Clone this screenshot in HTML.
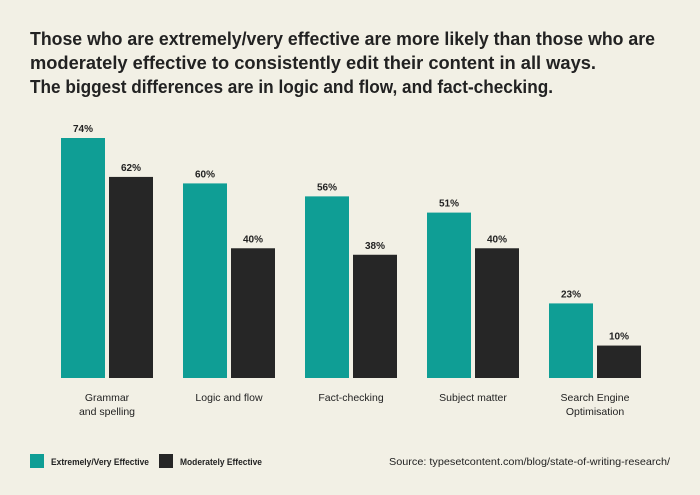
<!DOCTYPE html>
<html><head><meta charset="utf-8"><style>
body{margin:0;background:#f2f0e5;}
svg{display:block;font-family:"Liberation Sans",sans-serif;}
</style></head><body>
<svg id="c" width="700" height="495" viewBox="0 0 700 495">
<rect width="700" height="495" fill="#f2f0e5"/>
<text x="30" y="45" font-size="18" font-weight="bold" fill="#222" textLength="625" lengthAdjust="spacingAndGlyphs">Those who are extremely/very effective are more likely than those who are</text>
<text x="30" y="69" font-size="18" font-weight="bold" fill="#222" textLength="566" lengthAdjust="spacingAndGlyphs">moderately effective to consistently edit their content in all ways.</text>
<text x="30" y="93" font-size="18" font-weight="bold" fill="#222" textLength="523" lengthAdjust="spacingAndGlyphs">The biggest differences are in logic and flow, and fact-checking.</text>
<g id="bars"></g>
<rect x="30" y="454" width="14" height="14" fill="#0f9e95"/>
<text x="51" y="465" font-size="9.5" font-weight="bold" fill="#222" textLength="98" lengthAdjust="spacingAndGlyphs">Extremely/Very Effective</text>
<rect x="159" y="454" width="14" height="14" fill="#262626"/>
<text x="180" y="465" font-size="9.5" font-weight="bold" fill="#222" textLength="82" lengthAdjust="spacingAndGlyphs">Moderately Effective</text>
<text x="670" y="465" font-size="10.5" fill="#222" text-anchor="end" textLength="281" lengthAdjust="spacingAndGlyphs">Source: typesetcontent.com/blog/state-of-writing-research/</text>
</svg>
<script>
const categories=[["Grammar","and spelling"],["Logic and flow"],["Fact-checking"],["Subject matter"],["Search Engine","Optimisation"]];
const extremely=[74,60,56,51,23];
const moderately=[62,40,38,40,10];
const NS="http://www.w3.org/2000/svg";
const g=document.getElementById("bars");
const base=378, scale=240/74;
function y(v){return base-v*scale;}
function gx(i){return 61+i*122;}
function mk(t,a){const e=document.createElementNS(NS,t);for(const k in a)e.setAttribute(k,a[k]);g.appendChild(e);return e;}
categories.forEach((c,i)=>{
  [[extremely,0,"#0f9e95","extremely"],[moderately,48,"#262626","moderately"]].forEach(([arr,off,col,nm])=>{
    const v=arr[i];
    const r=mk("rect",{x:gx(i)+off,y:y(v),width:44,height:v*scale,fill:col});
    
    
    const t=mk("text",{x:gx(i)+off+22,y:y(v)-6,"font-size":10,"font-weight":"bold","text-anchor":"middle",fill:"#222"});
    t.textContent=v+"%";
    
    
  });
  const y0=401;
  c.forEach((line,j)=>{
    const t=mk("text",{x:gx(i)+46,y:y0+j*14,"font-size":10.5,"text-anchor":"middle",fill:"#222"});
    t.textContent=line;
    
    
  });
});
</script>
</body></html>
